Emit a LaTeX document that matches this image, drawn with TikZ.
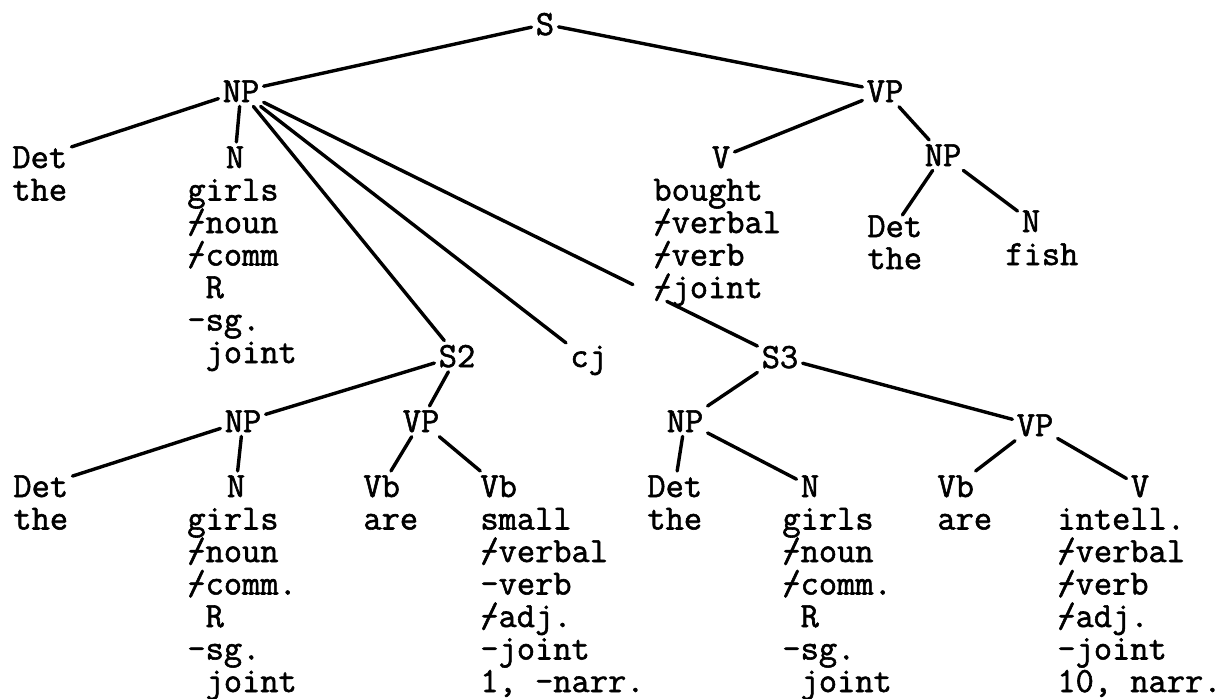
\documentclass[tikz,border=0pt]{standalone}
\usepackage{fontspec}
\usepackage{graphicx}
\usepackage{tikz}
\usetikzlibrary{calc}
\newfontfamily\typer{Latin Modern Mono}[FakeBold=1.6]
\newcommand\tw{\fontsize{17.7pt}{16.25pt}\typer\selectfont\lineskiplimit=-50pt}
\newcommand\nf{\makebox[0pt][l]{/}-}
\tikzset{
  cat/.style={anchor=base, font=\tw, inner sep=2pt},
  col/.style={anchor=base west, align=left, font=\tw, inner sep=0pt},
  br/.style={line width=1.7pt, line cap=round}
}

\begin{document}
\begin{tikzpicture}[x=0.5pt,y=-0.5pt]
	%%%%% START %%%%%
	\useasboundingbox (0,0) rectangle (1230,698);
	
	% (col nodes sit on the baseline of their last line)
	\node[cat] (S) at (545,35) {S};
	\node[cat] (NPa) at (241,102) {NP};
	\node[cat] (VPa) at (885,102) {VP};
	
	\node[cat, anchor=base west] (Deta) at (8,168) {Det};
	\node[col] (thea) at (12,200.5) {the};
	\node[cat] (Na) at (235,168) {N};
	\node[col] (girlsa) at (187,363) {girls\\\nf noun\\\nf comm\\\ R\\-sg.\\\ joint};
	
	\node[cat] (Va) at (721,168) {V};
	\node[col] (bought) at (653,298) {bought\\\nf verbal\\\nf verb\\\nf joint};
	\node[cat] (NPb) at (943,166) {NP};
	\node[cat, anchor=base west, inner sep=0pt] (Detb) at (867,237) {Det};
	\node[col] (theb) at (867,269) {the};
	\node[cat] (Nb) at (1031,232) {N};
	\node[col] (fish) at (1005,265) {fish};
	
	\node[cat] (Sb) at (457,367) {S2};
	\node[cat, anchor=base west] (cj) at (566,367) {cj};
	\node[cat] (Sc) at (780,368) {S3};
	
	\node[cat] (NPc) at (243,432) {NP};
	\node[cat] (VPc) at (421,432) {VP};
	\node[cat] (NPd) at (685,432) {NP};
	\node[cat] (VPd) at (1035,436) {VP};
	
	\node[cat, anchor=base west] (Detc) at (9,497) {Det};
	\node[col] (thec) at (13,529.5) {the};
	\node[cat] (Nc) at (236,497) {N};
	\node[col] (girlsc) at (187,692) {girls\\\nf noun\\\nf comm.\\\ R\\-sg.\\\ joint};
	\node[cat, anchor=base west] (Vba) at (359,497) {Vb};
	\node[col] (area) at (363,529.5) {are};
	\node[cat, anchor=base west] (Vbb) at (476,497) {Vb};
	\node[col] (small) at (480,692) {small\\\nf verbal\\-verb\\\nf adj.\\-joint\\1, -narr.};
	
	\node[cat, anchor=base west] (Detd) at (643,497) {Det};
	\node[col] (thed) at (647,529.5) {the};
	\node[cat] (Nd) at (810,497) {N};
	\node[col] (girlsd) at (782,692) {girls\\\nf noun\\\nf comm.\\\ R\\-sg.\\\ joint};
	\node[cat, anchor=base west] (Vbc) at (933,497) {Vb};
	\node[col] (areb) at (937,529.5) {are};
	\node[cat] (Vc) at (1140,497) {V};
	\node[col] (intell) at (1057,692) {intell.\\\nf verbal\\\nf verb\\\nf adj.\\-joint\\10, narr.};
	
	% branches
	\draw[br] (S) -- (NPa);
	\draw[br] (S) -- (VPa);
	\draw[br] (NPa) -- (Deta);
	\draw[br] (NPa) -- (Na);
	\draw[br] (NPa) -- (Sb);
	\draw[br] (NPa) -- (cj);
	\draw[br] (NPa) -- ($(NPa)!0.727!(Sc)$);
	\draw[br] ($(NPa)!0.79!(Sc)$) -- (Sc);
	\draw[br] (VPa) -- (Va);
	\draw[br] (VPa) -- (NPb);
	\draw[br] (NPb) -- (Detb);
	\draw[br] (NPb) -- (Nb);
	
	\draw[br] (Sb) -- (NPc);
	\draw[br] (Sb) -- (VPc);
	\draw[br] (NPc) -- (Detc);
	\draw[br] (NPc) -- (Nc);
	\draw[br] (VPc) -- (Vba);
	\draw[br] (VPc) -- (Vbb);
	
	\draw[br] (Sc) -- (NPd);
	\draw[br] (Sc) -- (VPd);
	\draw[br] (NPd) -- (Detd);
	\draw[br] (NPd) -- (Nd);
	\draw[br] (VPd) -- (Vbc);
	\draw[br] (VPd) -- (Vc);
	%%%%% END %%%%%
\end{tikzpicture}
\end{document}
